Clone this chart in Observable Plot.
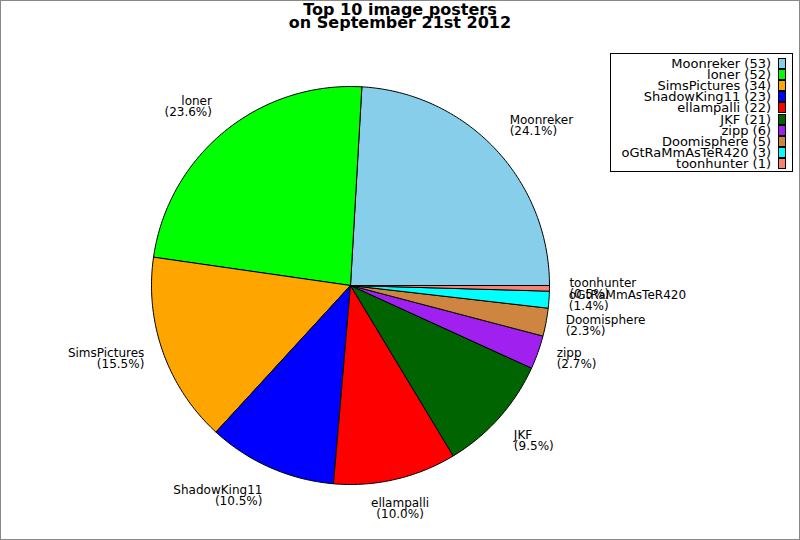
<!DOCTYPE html>
<html>
<head>
<meta charset="utf-8">
<script src="https://cdn.jsdelivr.net/npm/d3@7"></script>
<script src="https://cdn.jsdelivr.net/npm/@observablehq/plot@0.6"></script>
<style>
  body { margin: 0; background: #fff; font-family: "DejaVu Sans", sans-serif; }
  #fig { position: relative; width: 800px; height: 540px; overflow: hidden; }
  #chart { position: absolute; left: 0; top: 0; }
  #title { position: absolute; left: 0; width: 800px; top: 3px; text-align: center;
           font-weight: bold; font-size: 16px; line-height: 13px; color: #000; }
  #legend { position: absolute; left: 610px; top: 53px; width: 183px; height: 119px;
            border: 1px solid #000; box-sizing: border-box; background: #fff; }
  .row { position: absolute; left: 0; width: 168px; height: 11px; }
  .row span { position: absolute; right: 8px; top: 0; font-size: 13px; line-height: 11px;
              white-space: nowrap; color: #000; }
  .row i { position: absolute; right: -7px; top: 0; width: 6px; height: 9px;
           border: 1px solid #000; }
  #frame { position: absolute; inset: 0; border: 1px solid #888; pointer-events: none; }
</style>
</head>
<body>
<div id="fig">
  <div id="chart"></div>
  <div id="title">Top 10 image posters<br>on September 21st 2012</div>
  <div id="legend"></div>
  <div id="frame"></div>
</div>
<script>
const names = ['Moonreker', 'loner', 'SimsPictures', 'ShadowKing11', 'ellampalli', 'JKF', 'zipp', 'Doomisphere', 'oGtRaMmAsTeR420', 'toonhunter'];
const counts = [53, 52, 34, 23, 22, 21, 6, 5, 3, 1];
const colors = ['#87CEEB', '#00FF00', '#FFA500', '#0000FF', '#FF0000', '#006400', '#A020F0', '#CD853F', '#00FFFF', '#FA8072'];

const total = d3.sum(counts);

// slices go counterclockwise from 3 o'clock
let cum = 0;
const slices = names.map((name, i) => {
  const a0 = cum / total * 2 * Math.PI;
  cum += counts[i];
  const a1 = cum / total * 2 * Math.PI;
  const mid = (a0 + a1) / 2;
  return { name, count: counts[i], a0, a1, mid,
           pct: (counts[i] / total * 100).toFixed(1) };
});

// outline of each slice: centre, arc, centre
const outline = slices.flatMap(s => {
  const n = Math.max(2, Math.ceil((s.a1 - s.a0) / (Math.PI / 180)));
  const pts = [{ name: s.name, x: 0, y: 0 }];
  for (let k = 0; k <= n; k++) {
    const a = s.a0 + (s.a1 - s.a0) * k / n;
    pts.push({ name: s.name, x: Math.cos(a), y: Math.sin(a) });
  }
  pts.push({ name: s.name, x: 0, y: 0 });
  return pts;
});

const labels = slices.map(s => {
  const c = Math.cos(s.mid), sn = Math.sin(s.mid);
  return {
    x: 1.1 * c, y: 1.1 * sn,
    text: s.name + '\n(' + s.pct + '%)',
    h: c > 0.3 ? 'start' : c < -0.3 ? 'end' : 'middle',
    v: sn > 0.5 ? 'bottom' : sn < -0.5 ? 'top' : 'middle'
  };
});

const labelMarks = [];
for (const h of ['start', 'middle', 'end']) {
  for (const v of ['top', 'middle', 'bottom']) {
    labelMarks.push(Plot.text(labels.filter(d => d.h === h && d.v === v), {
      x: 'x', y: 'y', text: 'text',
      textAnchor: h, lineAnchor: v,
      lineHeight: 0.92, fontSize: 12, fill: '#000'
    }));
  }
}

const chart = Plot.plot({
  width: 800,
  height: 540,
  marginLeft: 151,
  marginRight: 251,
  marginTop: 86,
  marginBottom: 56,
  x: { domain: [-1, 1], axis: null },
  y: { domain: [-1, 1], axis: null },
  color: { domain: names, range: colors },
  style: { fontFamily: 'DejaVu Sans', background: 'white' },
  marks: [
    Plot.line(outline, { x: 'x', y: 'y', z: 'name', fill: 'name',
                         stroke: 'black', strokeWidth: 1, curve: 'linear' }),
    ...labelMarks
  ]
});
d3.select('#chart').append(() => chart);

const legend = d3.select('#legend');
names.forEach((name, i) => {
  const row = legend.append('div').attr('class', 'row')
    .style('top', (4 + i * 11.1) + 'px');
  row.append('span').text(name + ' (' + counts[i] + ')');
  row.append('i').style('background', colors[i]);
});
</script>
</body>
</html>
